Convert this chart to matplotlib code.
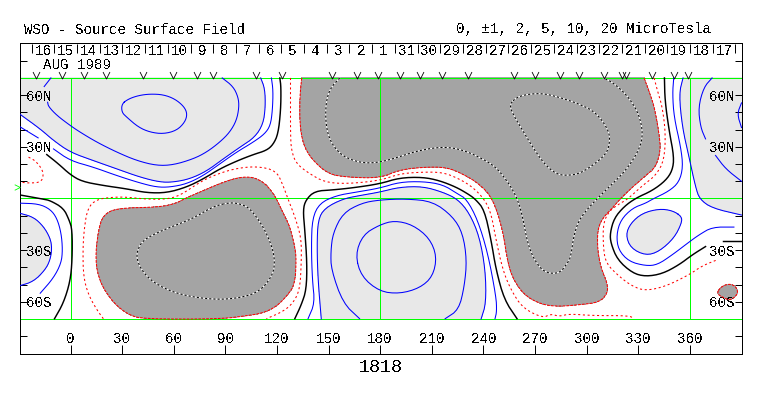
import numpy as np
import matplotlib
matplotlib.use("Agg")
import matplotlib.pyplot as plt
from matplotlib.path import Path

plt.rcParams['font.family'] = ['Liberation Mono', 'DejaVu Sans Mono']
plt.rcParams['text.antialiased'] = False
plt.rcParams['lines.scale_dashes'] = False

# ---------- data (longitude, latitude) ----------
lon_ticks = [0, 30, 60, 90, 120, 150, 180, 210, 240, 270, 300, 330, 360]
lat_ticks = [-80, -70, -60, -50, -40, -30, -20, -10, 0, 10, 20, 30, 40, 50, 60, 70, 80]
lat_labels = {60: '60N', 30: '30N', -30: '30S', -60: '60S'}
day_labels = ['16', '15', '14', '13', '12', '11', '10', '9', '8', '7', '6', '5', '4', '3', '2', '1',
              '31', '30', '29', '28', '27', '26', '25', '24', '23', '22', '21', '20', '19', '18', '17']
day_edges = [-22.6, -9.4, 3.8, 17.0, 30.2, 43.4, 56.6, 69.8, 83.0, 96.2, 109.4, 122.6, 135.8, 149.0,
             162.2, 175.4, 188.6, 201.8, 215.0, 228.2, 241.4, 254.6, 267.8, 281.0, 294.2, 307.4,
             320.6, 333.8, 347.0, 360.2, 373.4, 386.6]
obs_lons = [-19.9, -5, 8.1, 20.7, 42.4, 59.4, 73.3, 82.6, 108.1, 123.2, 152.2, 166.7, 178.7, 191.7,
            202.9, 216.1, 231, 257.6, 270, 284.3, 295.4, 310.2, 320.5, 322.9, 338.3, 350.9, 358.8]

nw_p10 = [(29.8,54.9),(33.7,57.8),(39.5,59.8),(46.2,60.7),(54,60.3),(60.7,57.8),(66,53.4),(67.9,49.1),
          (66.5,44.3),(61.7,39.5),(54,37.5),(46.2,38.5),(39.5,41.4),(32.7,47.2),(29.8,50.1)]
nw_p5a = [(88.2,70),(94.6,65),(97.5,58.8),(98,53),(96.5,45.3),(92.6,38.5),(86.8,32.7),(79.1,26.9),(71.4,23),
          (59.8,19.5),(50.1,19.1),(38.5,22),(26.9,26.9),(15.3,32.7),(5.6,38.5),(-0.2,42.4),(-7.9,48.2),
          (-12.8,53.4),(-13.3,55.9)]
nw_p5b = [(-15.3,65),(-11.4,70)]
nw_p2 = [(110.6,70),(113,63.6),(113.3,53),(112,43.3),(107.2,35.6),(98.5,29.8),(88.8,23),(79.1,15.9),(69.4,11.4),
         (59.8,9.5),(52,9.5),(40.4,12.4),(26.9,17.2),(13.3,22),(-0.2,26.9),(-9.9,33.7),(-17.6,40.4),(-29.65,49.1)]
nw_p1a = [(116.8,70),(117.8,62.7),(117.4,51),(116.2,42.4),(112.9,37.5),(106.2,32.7),(96.5,26.9),(86.8,20.1),
          (77.2,13.3),(67.5,8.5),(57.8,6.6),(50.1,6.6),(40.4,9),(26.9,13.3),(13.3,18.2),(-0.2,22),(-9.9,28.8)]
nw_p1b = [(-18.8,35.2),(-29.65,41.8)]
nw_zero = [(121.7,70),(122.4,64.6),(122.2,51.1),(120.7,37.5),(117.8,31.3),(113.9,27.9),(106.2,25.5),(96.5,21.7),
           (86.8,17.2),(77.2,11.4),(67.5,6.6),(55.9,3.3),(44.3,3.3),(32.7,5.6),(19.3,7.5),(6.6,9.9),(-0.2,13.9),
           (-7,20.1),(-13.8,25.5)]
sw_zero = [(-29.65,2.1),(-15.7,-0.4),(-11.8,-1.2),(-4.1,-5.6),(-0.8,-12.4),(1,-18.2),(1,-35.6),(-0.2,-48.2),
           (-4.1,-60.7),(-9.3,-69.8)]
sw_p1 = [(-29.65,-2.7),(-18.6,-3.1),(-11.8,-6.2),(-7.9,-11.4),(-5.4,-20.1),(-4.6,-29.8),(-5.4,-37.5),(-9.9,-46.2),
         (-17.6,-55)]
sw_p2 = [(-29.65,-8.5),(-21.5,-10.8),(-15.7,-16.2),(-11.8,-23),(-10.8,-28.8),(-11.8,-35.6),(-14.7,-41.4),
         (-21.5,-48.2),(-29.65,-50.7)]
w_m1 = [(-24.4,24),(-20.5,22),(-16.6,17.2),(-15.7,13.3),(-17.2,9.5),(-23.4,8.9),(-29.65,9.5)]

n_m2 = [(134.4,70),(133.3,58.8),(133.3,43.3),(135.2,31.7),(140,23),(149.7,14.3),(160.3,12.4),(179.7,11.8),
        (191.3,16.6),(204.8,18.2),(218.4,18.2),(228,14.3),(237.7,8.5),(245.5,0),(251.3,-18.2),(254.2,-37.5),
        (258,-48.2),(264.8,-56.9),(274.5,-61.7),(284.1,-62.7),(295.7,-61.7),(307.4,-60.3),(312.2,-55),
        (312.2,-49.5),(308.4,-40.4),(306.4,-29.8),(306.4,-18.2),(309.3,-11.4),(315,-5.6),(319.9,0.2),
        (326.7,6.6),(334.4,13.3),(340.2,18.2),(343.1,27.9),(342.2,37.5),(340.2,49.1),(338.3,56.9),(333.5,70)]
n_m5 = [(156.5,70),(150.7,63.6),(148.4,54.9),(148.4,43.3),(150.7,33.7),(156.5,25.9),(164.2,22),(172,20.5),
        (179.7,21.1),(189.4,23.6),(199,26.9),(210.6,29.4),(220.3,29.8),(230,27.5),(239.6,23),(247.4,18.2),
        (255.1,8.5),(259.9,-0.4),(262.8,-10.4),(265.7,-25.9),(269.6,-35.6),(275.4,-43),(284.1,-43.7),(289,-37.5),
        (290.9,-33.7),(292.8,-20.1),(296.7,-10.4),(306.4,0.2),(313.1,6.6),(322.8,16.2),(330.5,27.9),(332.9,37.5),
        (330.5,49.1),(323.8,59.8),(315.1,67.5),(309.7,70)]
n_m10 = [(255.1,54.9),(260.9,59.8),(273.5,61.3),(284.1,58.8),(295.7,54.9),(305.4,50.1),(313.1,39.5),(313.5,31.7),
         (311.2,25.5),(303.4,19.1),(295.7,14.3),(288,13.3),(282.2,14.3),(275.4,20.1),(268.7,29.8),(262.9,39.5),
         (257.1,49.1)]
n_m1a = [(127.9,70),(127.9,56.9),(127.9,37.5),(128.4,27.9),(131.3,20.1),(139.1,14.3),(147.8,9.5),(160.3,8.5),
         (179.7,10.4),(191.3,14.3),(202.9,15.3),(216.3,15.3),(226,11.4),(233.8,6.6),(240.6,-0.4),(244.5,-8.5),
         (247.4,-24),(251.3,-41.4),(256,-53),(262.9,-63.6),(274.5,-69.4),(279.3,-67),(284.1,-68.5),(290,-67),
         (303.5,-68),(324.7,-68),(327.7,-69.8)]
n_m1b = [(339.3,70),(341.2,62.7),(344.1,53),(346,37.5),(345.1,22),(340.2,13.3),(332.5,7.5),(323.9,-0.4),(318,-3.7),
         (313.1,-7.5),(309.7,-14.3),(309.7,-27.9),(311.2,-37.5),(319,-45.3),(326.7,-51),(334.4,-53.6),(346,-51),
         (359.6,-44.3),(367.4,-39),(376,-35.6)]

mid_zero = [(130.4,-69.8),(134.2,-61.7),(137.1,-53),(137.5,-37.5),(136.2,-18.2),(135.2,-6.6),(136.8,-0.8),(142,4.3),
            (152.6,5),(164.2,6.2),(179.7,8.5),(191.3,12),(204.8,12.4),(214.5,10.4),(224.2,6.6),(231,2.7),(235.4,-0.4),
            (240.6,-6.6),(244.5,-24),(247.4,-41.4),(252.2,-58.8),(259.6,-69.8)]
mid_p1 = [(138.1,-69.8),(142,-60.7),(140.6,-47.2),(140,-27.9),(140.6,-11.4),(144.9,-2.7),(154.5,1.7),(166.1,3.7),
          (179.7,6),(191.3,9.5),(204.8,9.9),(216.4,8.1),(225.1,2.7),(230.3,-0.4),(236.7,-12.4),(242.6,-31.7),
          (247.4,-56.9),(247.8,-65.6),(246.8,-69.8)]
mid_p2 = [(145.8,-70),(143.9,-47.2),(143.3,-27.9),(143.9,-12.4),(147.8,-5.6),(158.4,-0.2),(168.1,1.7),(179.7,3.7),
          (191.3,6.6),(204.8,7),(216.4,3.7),(225.1,-0.4),(231.9,-8.5),(237.7,-22),(241.2,-41.4),(241.6,-60.7),
          (238.7,-70)]
mid_p5 = [(168.1,-69.8),(158.4,-60.7),(151.6,-41.4),(151.3,-30.8),(152.6,-20.1),(158.4,-8.5),(169.1,-2.7),(179.7,-0.8),
          (195.2,-0.2),(210.6,-1.7),(222.2,-10.4),(228,-20.1),(230.4,-35.6),(229,-51),(225.7,-64.6),(217.8,-69.8)]
mid_p10 = [(165.6,-32.7),(169.1,-45.3),(179.7,-54),(191.3,-55.3),(203,-52),(210.6,-45.3),(213,-33.7),(208.7,-23),
           (199,-15.3),(188.4,-12.8),(179.7,-15.3),(170,-21.1)]

s_m2 = [(66.5,0),(77.2,4.6),(88.8,9.5),(98.5,12.4),(106.2,12.4),(112,9.5),(115.9,5.6),(119.7,0),(123.6,-8.5),
        (127.5,-16.2),(130.4,-27.9),(131.3,-35.6),(130.4,-50.1),(125.5,-56.9),(119.7,-62.7),(112,-66.5),(102.3,-68.1),
        (86.8,-70),(42.4,-70),(33.7,-67.5),(25,-60.7),(17.2,-49.1),(14.3,-35.6),(16.2,-18.2),(19.1,-9.5),(26.9,-5.6),
        (52,-5),(61.7,-2.7)]
s_m1 = [(19.1,-69.8),(15.3,-64.6),(10.4,-55.9),(7.5,-45.3),(7.2,-29.8),(7.9,-18.2),(9.9,-5.6),(15.3,-0.4),(25,0.8),
        (32.7,0.8),(44.3,-0.4),(55.9,-0.4),(63.6,1.7),(75.2,9.5),(83,13.3),(94.6,17.2),(108.1,18.8),(119.7,16.2),
        (123.6,7.5),(126.5,-0.4),(130.4,-10.4),(134.2,-23),(134.2,-37.5),(133.3,-53),(129.4,-60.7),(123.6,-65.6),
        (113.9,-69.8)]
s_m5 = [(92.6,-2.3),(83,-4.6),(71.4,-11.4),(61.7,-15.3),(52,-19.1),(42.4,-24),(38.9,-29.8),(38.5,-35.6),(42.4,-43.3),
        (50.1,-50.1),(63.6,-55.9),(83,-58.8),(98.5,-57.8),(110.1,-54),(117.8,-44.3),(118.8,-35.6),(116.8,-26.9),
        (112,-16.2),(104.3,-5.6),(98.5,-3.1)]

e_zero_n = [(345.3,70),(345.6,56.9),(348,39.5),(350.9,24),(349.9,16.2),(346,10.4),(338.3,4.6),(328.6,0.2),(321.9,-4.6),
            (316.1,-11.4),(313.7,-20.1),(314.1,-25.9),(318,-35.6),(326.7,-43.3),(334.4,-45.3),(344.1,-43.7),(353.8,-38.5),
            (361.5,-32.7),(369.2,-27.9)]
e_zero_tail = [(379.3,-24.6),(390.1,-24.6)]
e_p1 = [(350.7,70),(350,60.7),(350.9,47.2),(354.8,29.8),(356.1,18.2),(353.8,9.5),(348,4.3),(338.3,-0.4),(334.4,-2.7),
        (326.7,-5.6),(319.9,-12.4),(317.4,-21.1),(318.5,-29.8),(324.7,-36.6),(334.4,-39.1),(341.2,-38.5),(349.9,-32.7),
        (359.6,-25.3),(365.4,-21.1),(373.1,-16.6),(385.7,-16.6)]
e_p2 = [(356.1,70),(353.8,60.7),(355.7,41.4),(359.6,24),(363.4,6.6),(365.8,-0.4),(373,-5.6),(390.1,-9.6)]
e_p2_lobe = [(355.3,-10.4),(349.9,-7),(342.2,-6),(332.5,-8.5),(325.7,-14.3),(322.8,-21.1),(325.7,-28.8),(334.4,-33.1),
             (342.2,-30.8),(350.9,-23),(355.3,-14.3)]
e_p5a = [(373,70),(368.2,64.6),(365,53),(366.3,41.4),(369.2,34.6)]
e_p5b = [(375,25),(380.9,17.2),(390.1,10)]
e_p10 = [(390.1,55.5),(387.6,49.1),(390.1,41.2)]
e_spot = [(375.4,-55),(378.9,-50.7),(383.7,-49.5),(387,-51.4),(388.2,-55.3),(383.7,-59.2),(379.9,-57.8)]

LIGHT = '#E8E8E8'; DARK = '#A4A4A4'; BLUE = '#0000FF'; RED = '#FF0000'; GREEN = '#00FF00'
THIN = 0.75


def smooth(pts, closed=False, n=2):
    p = np.asarray(pts, float)
    for _ in range(n):
        if closed:
            q = np.roll(p, -1, axis=0)
            p = np.column_stack([0.75*p + 0.25*q, 0.25*p + 0.75*q]).reshape(-1, 2)
        else:
            a, b = p[:-1], p[1:]
            m = np.column_stack([0.75*a + 0.25*b, 0.25*a + 0.75*b]).reshape(-1, 2)
            p = np.vstack([p[0], m, p[-1]])
    return p


fig = plt.figure(figsize=(7.63, 3.96), dpi=100, facecolor='white')
W, H = 763.0, 396.0
ax = fig.add_axes([19.5/W, 1-353.5/H, 722/W, 310/H])
ax.set_xlim(-29.65, 390.1)
ax.set_ylim(-90, 90)


def fill(pts, color, corners=(), closed=False):
    p = smooth(pts, closed=closed)
    if len(corners):
        p = np.vstack([p, corners])
    ax.fill(p[:, 0], p[:, 1], color=color, lw=0, zorder=1, antialiased=False)


fill(nw_p2, LIGHT, [(-29.65, 70)])
fill(sw_p2, LIGHT)
fill(mid_p2, LIGHT)
fill(e_p2, LIGHT, [(390.1, 70)])
fill(e_p2_lobe, LIGHT, closed=True)
fill(n_m2, DARK)
fill(s_m2, DARK, closed=True)
fill(e_spot, DARK, closed=True)

# green grid
for lat in (70, 0, -70):
    ax.plot([-29.65, 390.1], [lat, lat], color=GREEN, lw=0.72, zorder=2, antialiased=False)
for lon in (0, 180, 360):
    ax.plot([lon, lon], [-70, 70], color=GREEN, lw=0.72, zorder=2, antialiased=False)


def line(pts, closed=False, **kw):
    p = smooth(pts, closed=closed)
    if closed:
        p = np.vstack([p, p[0]])
    ax.plot(p[:, 0], p[:, 1], zorder=3, **kw)


for c in (nw_p5a, nw_p5b, nw_p2, nw_p1a, nw_p1b, sw_p1, sw_p2, mid_p1, mid_p2, mid_p5, e_p1, e_p2, e_p5a, e_p5b, e_p10):
    line(c, color=BLUE, lw=THIN)
for c in (nw_p10, mid_p10, e_p2_lobe):
    line(c, closed=True, color=BLUE, lw=THIN)
for c in (nw_zero, sw_zero, mid_zero, e_zero_n, e_zero_tail):
    line(c, color='black', lw=1.05)
for c in (w_m1, n_m1a, n_m1b, s_m1):
    line(c, color=RED, lw=THIN, ls=(0, (1.5, 1.9)))
for c, cl in ((n_m2, False), (s_m2, True), (e_spot, True)):
    line(c, closed=cl, color=RED, lw=THIN, ls=(0, (2.0, 0.8)))
for c, cl in ((n_m5, False), (s_m5, True), (n_m10, True)):
    line(c, closed=cl, color='white', lw=THIN)
    line(c, closed=cl, color='black', lw=THIN, ls=(0, (1.5, 1.5)))

# observation marks along the top of the map
v_marker = Path([(-1, 1), (0, -1), (1, 1)], [Path.MOVETO, Path.LINETO, Path.LINETO])
ax.plot(obs_lons, np.full(len(obs_lons), 71.7), ls='none', marker=v_marker, ms=5, mfc='none', mec='black',
        mew=0.6, zorder=4)

# green pointer just outside the frame
gt_marker = Path([(-1, 1), (1, 0), (-1, -1)], [Path.MOVETO, Path.LINETO, Path.LINETO])
ax.plot([-31.2], [6.4], ls='none', marker=gt_marker, ms=4, mfc='none', mec=GREEN, mew=0.6, clip_on=False, zorder=4)

# axes ticks and labels
FS = 10.2
ax.set_xticks(lon_ticks)
ax.set_xticklabels([str(v) for v in lon_ticks], fontsize=FS)
ax.tick_params(axis='x', direction='in', length=6.5, width=0.72, pad=-15.2, bottom=True, top=False)
ax.set_yticks(lat_ticks)
ax.set_yticklabels([lat_labels.get(v, '') for v in lat_ticks], fontsize=FS)
ax.tick_params(axis='y', direction='in', length=5, width=0.72, pad=-23.4, left=True, right=True,
               labelleft=True, labelright=True)
for lbl in ax.get_yticklabels(which='major') + [t.label2 for t in ax.yaxis.get_major_ticks()]:
    lbl.set_va('center_baseline')
for s in ax.spines.values():
    s.set_linewidth(0.72)

top = ax.twiny()
top.set_xlim(ax.get_xlim())
top.set_xticks(day_edges)
top.set_xticklabels([''] * len(day_edges))
top.set_xticks([(a + b) / 2 for a, b in zip(day_edges[:-1], day_edges[1:])], minor=True)
top.set_xticklabels(day_labels, minor=True, fontsize=FS)
top.tick_params(axis='x', which='major', direction='in', length=6.5, width=0.72)
top.tick_params(axis='x', which='minor', length=0, pad=-10.2)
for s in top.spines.values():
    s.set_visible(False)

fig.text(24/W, 1-29.5/H, 'WSO - Source Surface Field', fontsize=FS, ha='left', va='center')
fig.text(456/W, 1-29.5/H, '0, ±1, 2, 5, 10, 20 MicroTesla', fontsize=FS, ha='left', va='center')
fig.text(43/W, 1-65/H, 'AUG 1989', fontsize=FS, ha='left', va='center')
fig.text(380.5/W, 1-367/H, '1818', fontsize=13.2, ha='center', va='center')

fig.savefig('out.png', dpi=100)
